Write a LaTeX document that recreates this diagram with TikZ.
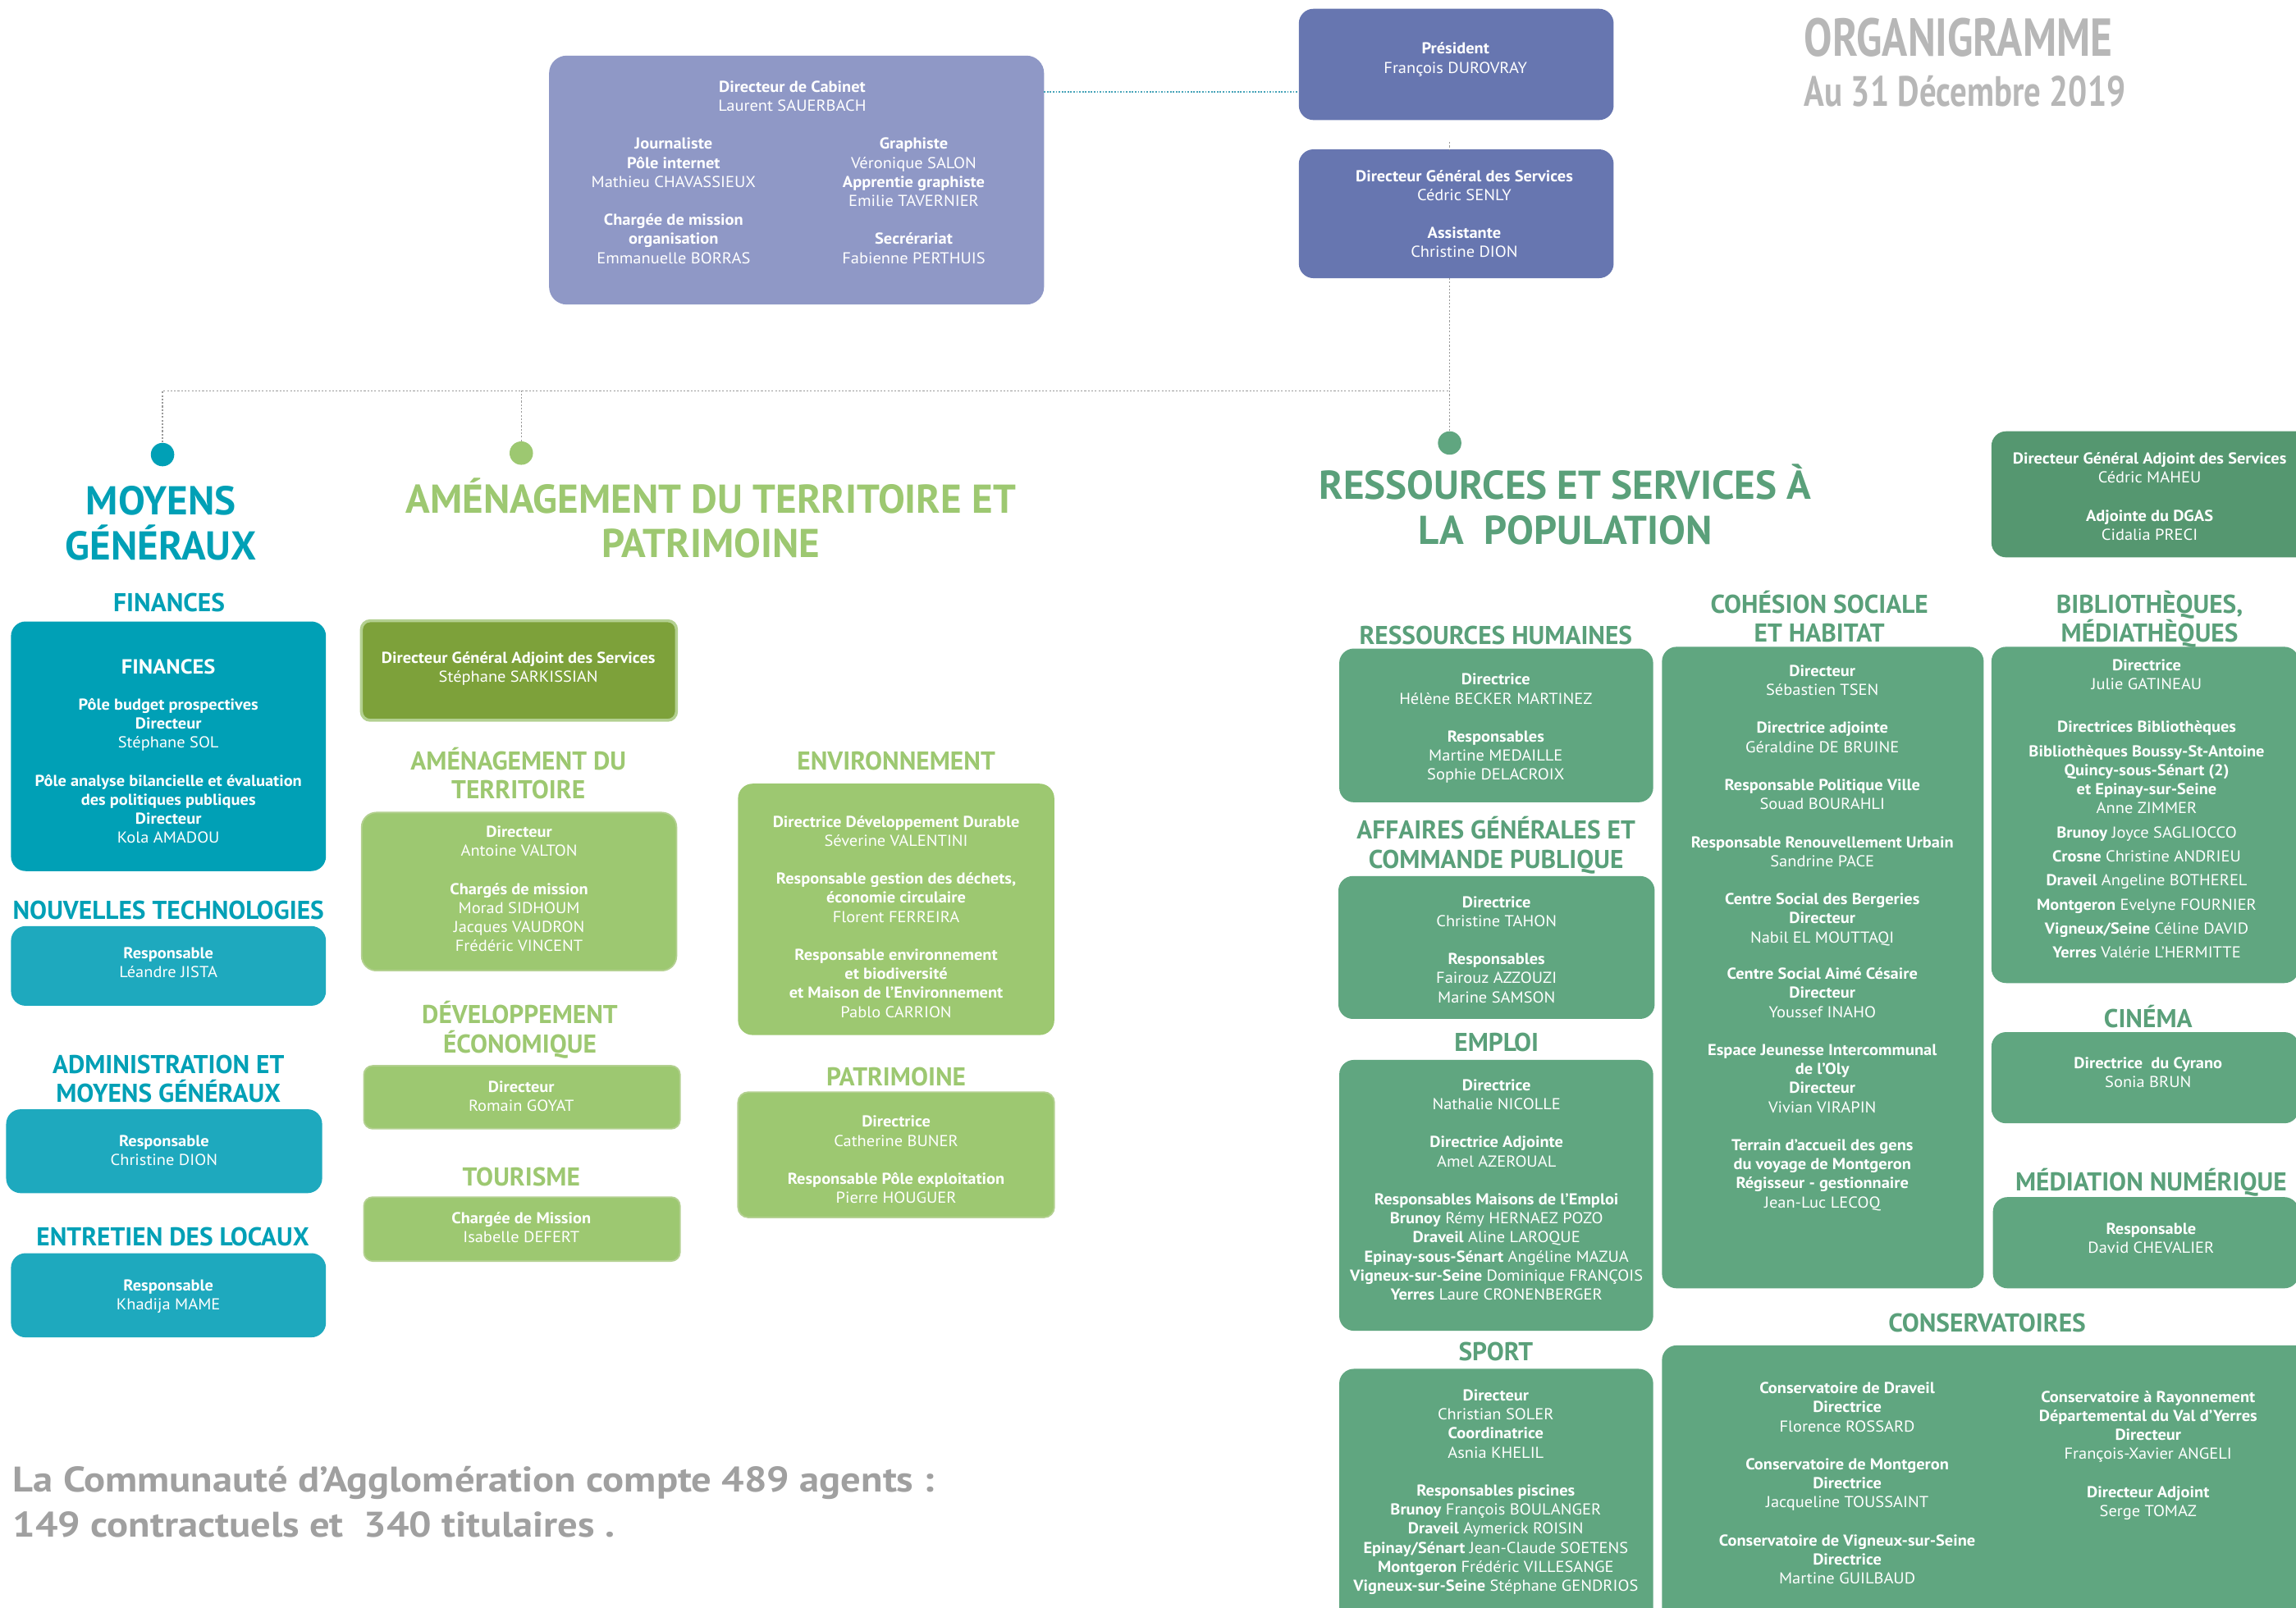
\documentclass[tikz,border=0pt]{standalone}
\usepackage{fontspec}
\setmainfont{PT Sans}
\newfontfamily\condfont{PT Sans}[FakeStretch=0.79]
\newfontfamily\boxfont{PT Sans}[FakeStretch=1.06]
\newfontfamily\widefont{PT Sans}[FakeStretch=1.12]
\usetikzlibrary{calc}
\definecolor{tealA}{HTML}{00A0B6}
\definecolor{tealB}{HTML}{1EA9BE}
\definecolor{lgreen}{HTML}{9DC871}
\definecolor{lgborder}{HTML}{B3D090}
\definecolor{olive}{HTML}{7DA13A}
\definecolor{dgreen}{HTML}{60A680}
\definecolor{dgreenB}{HTML}{559770}
\definecolor{dghead}{HTML}{5AA07A}
\definecolor{lavender}{HTML}{8F98C6}
\definecolor{presblue}{HTML}{6776B0}
\definecolor{titlegray}{HTML}{B7B7B7}
\definecolor{botgray}{HTML}{A0A0A0}
\definecolor{conngray}{HTML}{9A9A9A}
\definecolor{cabline}{HTML}{45A3B8}
\newcommand\mkbox[7]{\node[bx, fill=#2, minimum width=#5pt-#3pt, minimum height=#6pt-#4pt, #7] (#1) at (#3,#4) {};}
\newcommand\bx[1]{\textbf{#1}}
\newcommand\strA{\rule{0pt}{9.9pt}}
\newcommand\strB{\rule{0pt}{16.5pt}}
\newcommand\strC{\rule{0pt}{25.5pt}}
\newcommand\strT{\rule{0pt}{34.7pt}}
\newcommand\strS{\rule{0pt}{23.1pt}}
\begin{document}
\begin{tikzpicture}[x=1pt,y=-1pt,
  bx/.style={rectangle, rounded corners=10pt, draw=none, inner sep=0pt, outer sep=0pt, anchor=north west},
  tx/.style={anchor=north, inner sep=0pt, align=center, text=white, font=\boxfont\fontsize{10.8}{13}\selectfont},
  hd/.style={anchor=north, inner sep=0pt, align=center, font=\bfseries\fontsize{17.6}{19.8}\selectfont},
  bighd/.style={anchor=north, inner sep=0pt, align=center, font=\bfseries\fontsize{27.5}{30.5}\selectfont},
  dotnode/.style={circle, inner sep=0pt, minimum size=16pt, fill=#1},
  conn/.style={draw=conngray, line width=0.7pt, dash pattern=on 1.2pt off 1.2pt},
  cabconn/.style={draw=cabline, line width=1.2pt, dash pattern=on 1pt off 1pt}
]
\useasboundingbox (0,0) rectangle (1568,1098);
\clip (0,0) rectangle (1568,1098);
\fill[white] (0,0) rectangle (1568,1098);

% ---------- title ----------
\node[anchor=north west, inner sep=0pt, align=left, text=titlegray, font=\condfont\bfseries\fontsize{36.5}{34.2}\selectfont] (title) at (1232,3.6) {\strT ORGANIGRAMME\\{\fontsize{29}{34.2}\selectfont Au 31 Décembre 2019}};

% ---------- top boxes ----------
\mkbox{cab}{lavender}{375}{38}{713}{208}{rounded corners=12pt}
\mkbox{pres}{presblue}{887}{6}{1102}{82}{}
\mkbox{dgs}{presblue}{887}{102}{1102}{190}{}
\node[tx] (cabt) at (541,52.8) {\strA\bx{Directeur de Cabinet}\\Laurent SAUERBACH};
\node[tx] (cabl) at (460,91.8) {\strA\bx{Journaliste}\\\bx{Pôle internet}\\Mathieu CHAVASSIEUX\\[13pt]\bx{Chargée de mission}\\\bx{organisation}\\Emmanuelle BORRAS};
\node[tx] (cabr) at (624,91.8) {\strA\bx{Graphiste}\\Véronique SALON\\\bx{Apprentie graphiste}\\Emilie TAVERNIER\\[13pt]\bx{Secrérariat}\\Fabienne PERTHUIS};
\node[tx] (prest) at (994,26.8) {\strA\bx{Président}\\François DUROVRAY};
\node[tx] (dgst) at (1000,113.8) {\strA\bx{Directeur Général des Services}\\Cédric SENLY\\[13pt]\bx{Assistante}\\Christine DION};

% ---------- connectors ----------
\node[dotnode=tealA] (d1) at (111,310.5) {};
\node[dotnode=lgreen] (d2) at (356,309.5) {};
\node[dotnode=dgreen] (d3) at (990,302.6) {};
\coordinate (jn) at (990,267);
\coordinate (vtop) at (990,97);
\coordinate (cy) at (800,63);
\draw[cabconn] (cab.east |- cy) -- (pres.west |- cy);
\draw[conn] (vtop) -- (vtop |- dgs.north);
\draw[conn] (jn |- dgs.south) -- (d3.north);
\draw[conn] (d1.north) |- (jn);
\draw[conn] (d2.north) -- (d2.north |- jn);

% ---------- big headings ----------
\node[bighd, text=tealA] (hmg) at (110,326) {\strC MOYENS\\GÉNÉRAUX};
\node[bighd, text=lgreen] (hat) at (485.5,324.8) {\strC AMÉNAGEMENT DU TERRITOIRE ET\\PATRIMOINE};
\node[bighd, text=dghead] (hrs) at (1069,315.5) {\strC RESSOURCES ET SERVICES À\\LA~ POPULATION};

% ---------- moyens generaux ----------
\node[hd, text=tealA] (hfin) at (115.5,401) {\strB FINANCES};
\mkbox{fin}{tealA}{7.5}{424.5}{222.6}{595}{}
\node[tx] (fint) at (115,450.1) {\strA{\fontsize{14}{16}\selectfont\bfseries FINANCES}\\[11.7pt]\bx{Pôle budget prospectives}\\\bx{Directeur}\\Stéphane SOL\\[13pt]\bx{Pôle analyse bilancielle et évaluation}\\\bx{des politiques publiques}\\\bx{Directeur}\\Kola AMADOU};
\node[hd, text=tealA] (hnt) at (115,611.1) {\strB NOUVELLES TECHNOLOGIES};
\mkbox{nt}{tealB}{7.5}{632.6}{222.6}{687}{}
\node[tx] (ntt) at (115,644.8) {\strA\bx{Responsable}\\Léandre JISTA};
\node[hd, text=tealA] (hadm) at (115,716.5) {\strB ADMINISTRATION ET\\MOYENS GÉNÉRAUX};
\mkbox{adm}{tealB}{4.2}{757.7}{220}{815}{}
\node[tx] (admt) at (112,772.8) {\strA\bx{Responsable}\\Christine DION};
\node[hd, text=tealA] (hent) at (118,834.5) {\strB ENTRETIEN DES LOCAUX};
\mkbox{ent}{tealB}{7.5}{856}{222.6}{913.5}{}
\node[tx] (entt) at (115,871.8) {\strA\bx{Responsable}\\Khadija MAME};

% ---------- amenagement ----------
\mkbox{sark}{olive}{246.8}{424}{462}{492}{draw=lgborder, line width=2pt, rounded corners=6pt}
\node[tx] (sarkt) at (354,442.8) {\strA\bx{Directeur Général Adjoint des Services}\\Stéphane SARKISSIAN};
\node[hd, text=lgreen] (hamt) at (354,509.2) {\strB AMÉNAGEMENT DU\\TERRITOIRE};
\mkbox{amen}{lgreen}{247}{555}{462}{663}{draw=lgborder, line width=1pt}
\node[tx] (ament) at (354.5,561.8) {\strA\bx{Directeur}\\Antoine VALTON\\[13pt]\bx{Chargés de mission}\\Morad SIDHOUM\\Jacques VAUDRON\\Frédéric VINCENT};
\node[hd, text=lgreen] (hdev) at (355,682.5) {\strB DÉVELOPPEMENT\\ÉCONOMIQUE};
\mkbox{dev}{lgreen}{248.5}{728}{464.4}{771}{draw=lgborder, line width=1pt, rounded corners=6pt}
\node[tx] (devt) at (356,735.8) {\strA\bx{Directeur}\\Romain GOYAT};
\node[hd, text=lgreen] (htou) at (356,793.5) {\strB TOURISME};
\mkbox{tour}{lgreen}{248.5}{817.7}{464.4}{861.4}{draw=lgborder, line width=1pt, rounded corners=6pt}
\node[tx] (tourt) at (356,825.8) {\strA\bx{Chargée de Mission}\\Isabelle DEFERT};
\node[hd, text=lgreen] (henv) at (612,509.2) {\strB ENVIRONNEMENT};
\mkbox{env}{lgreen}{504}{535.3}{720}{707}{}
\node[tx] (envt) at (612,554.8) {\strA\bx{Directrice Développement Durable}\\Séverine VALENTINI\\[13pt]\bx{Responsable gestion des déchets,}\\\bx{économie circulaire}\\Florent FERREIRA\\[13pt]\bx{Responsable environnement}\\\bx{et biodiversité}\\\bx{et Maison de l’Environnement}\\Pablo CARRION};
\node[hd, text=lgreen] (hpat) at (612,725.1) {\strB PATRIMOINE};
\mkbox{pat}{lgreen}{504}{746}{720}{831.6}{draw=lgborder, line width=1pt, rounded corners=7pt}
\node[tx] (patt) at (612,759.8) {\strA\bx{Directrice}\\Catherine BUNER\\[13pt]\bx{Responsable Pôle exploitation}\\Pierre HOUGUER};

% ---------- ressources et services ----------
\mkbox{maheu}{dgreenB}{1360}{294.6}{1580}{380.7}{}
\node[tx] (maheut) at (1468,306.8) {\strA\bx{Directeur Général Adjoint des Services}\\Cédric MAHEU\\[13pt]\bx{Adjointe du DGAS}\\Cidalia PRECI};

\node[hd, text=dghead] (hrh) at (1021.5,423.5) {\strB RESSOURCES HUMAINES};
\mkbox{rh}{dgreen}{914.6}{443}{1129}{548}{}
\node[tx] (rht) at (1021.5,457.8) {\strA\bx{Directrice}\\Hélène BECKER MARTINEZ\\[13pt]\bx{Responsables}\\Martine MEDAILLE\\Sophie DELACROIX};

\node[hd, text=dghead] (hag) at (1021.7,556.5) {\strB AFFAIRES GÉNÉRALES ET\\COMMANDE PUBLIQUE};
\mkbox{ag}{dgreen}{914}{598.4}{1130}{696}{}
\node[tx] (agt) at (1022,609.8) {\strA\bx{Directrice}\\Christine TAHON\\[13pt]\bx{Responsables}\\Fairouz AZZOUZI\\Marine SAMSON};

\node[hd, text=dghead] (hemp) at (1022,701.5) {\strB EMPLOI};
\mkbox{emp}{dgreen}{914.6}{724}{1129}{909}{}
\node[tx] (empt) at (1022,734.8) {\strA\bx{Directrice}\\Nathalie NICOLLE\\[13pt]\bx{Directrice Adjointe}\\Amel AZEROUAL\\[13pt]\bx{Responsables Maisons de l’Emploi}\\\bx{Brunoy} Rémy HERNAEZ POZO\\\bx{Draveil} Aline LAROQUE\\\bx{Epinay-sous-Sénart} Angéline MAZUA\\\bx{Vigneux-sur-Seine} Dominique FRANÇOIS\\\bx{Yerres} Laure CRONENBERGER};

\node[hd, text=dghead] (hspo) at (1021.5,912.5) {\strB SPORT};
\mkbox{spo}{dgreen}{914.6}{935}{1129}{1130}{}
\node[tx] (spot) at (1021.5,946.8) {\strA\bx{Directeur}\\Christian SOLER\\\bx{Coordinatrice}\\Asnia KHELIL\\[13pt]\bx{Responsables piscines}\\\bx{Brunoy} François BOULANGER\\\bx{Draveil} Aymerick ROISIN\\\bx{Epinay/Sénart} Jean-Claude SOETENS\\\bx{Montgeron} Frédéric VILLESANGE\\\bx{Vigneux-sur-Seine} Stéphane GENDRIOS};

\node[hd, text=dghead] (hcoh) at (1242.5,402) {\strB COHÉSION SOCIALE\\ET HABITAT};
\mkbox{coh}{dgreen}{1135}{441.8}{1354.7}{880}{}
\node[tx] (coht) at (1244.5,451.8) {\strA\bx{Directeur}\\Sébastien TSEN\\[13pt]\bx{Directrice adjointe}\\Géraldine DE BRUINE\\[13pt]\bx{Responsable Politique Ville}\\Souad BOURAHLI\\[13pt]\bx{Responsable Renouvellement Urbain}\\Sandrine PACE\\[13pt]\bx{Centre Social des Bergeries}\\\bx{Directeur}\\Nabil EL MOUTTAQI\\[12pt]\bx{Centre Social Aimé Césaire}\\\bx{Directeur}\\Youssef INAHO\\[13pt]\bx{Espace Jeunesse Intercommunal}\\\bx{de l’Oly}\\\bx{Directeur}\\Vivian VIRAPIN\\[13pt]\bx{Terrain d’accueil des gens}\\\bx{du voyage de Montgeron}\\\bx{Régisseur - gestionnaire}\\Jean-Luc LECOQ};

\node[hd, text=dghead] (hbib) at (1468,402) {\strB BIBLIOTHÈQUES,\\MÉDIATHÈQUES};
\mkbox{bib}{dgreen}{1360}{441.8}{1570}{671.5}{}
\node[tx] (bibt) at (1466,447.8) {\strA\bx{Directrice}\\Julie GATINEAU\\[16pt]\bx{Directrices Bibliothèques}\\[4pt]\bx{Bibliothèques Boussy-St-Antoine}\\\bx{Quincy-sous-Sénart (2)}\\\bx{et Epinay-sur-Seine}\\Anne ZIMMER\\[3.5pt]\bx{Brunoy} Joyce SAGLIOCCO\\[3.4pt]\bx{Crosne} Christine ANDRIEU\\[3.4pt]\bx{Draveil} Angeline BOTHEREL\\[3.4pt]\bx{Montgeron} Evelyne FOURNIER\\[3.4pt]\bx{Vigneux/Seine} Céline DAVID\\[3.4pt]\bx{Yerres} Valérie L’HERMITTE};

\node[hd, text=dghead] (hcin) at (1467,685.2) {\strB CINÉMA};
\mkbox{cin}{dgreen}{1360}{705}{1570}{767.3}{}
\node[tx] (cint) at (1467,719.8) {\strA\bx{Directrice~ du Cyrano}\\Sonia BRUN};

\node[hd, text=dghead] (hmed) at (1469,796.5) {\strB MÉDIATION NUMÉRIQUE};
\mkbox{med}{dgreen}{1361}{817.7}{1570}{880}{}
\node[tx] (medt) at (1469,832.8) {\strA\bx{Responsable}\\David CHEVALIER};

\node[hd, text=dghead] (hcon) at (1357,893.2) {\strB CONSERVATOIRES};
\mkbox{con}{dgreen}{1135}{919}{1580}{1130}{}
\node[tx] (conl) at (1261.5,941.8) {\strA\bx{Conservatoire de Draveil}\\\bx{Directrice}\\Florence ROSSARD\\[13pt]\bx{Conservatoire de Montgeron}\\\bx{Directrice}\\Jacqueline TOUSSAINT\\[13pt]\bx{Conservatoire de Vigneux-sur-Seine}\\\bx{Directrice}\\Martine GUILBAUD};
\node[tx] (conr) at (1467,947.8) {\strA\bx{Conservatoire à Rayonnement}\\\bx{Départemental du Val d’Yerres}\\\bx{Directeur}\\François-Xavier ANGELI\\[13pt]\bx{Directeur Adjoint}\\Serge TOMAZ};

% ---------- bottom text ----------
\node[anchor=north west, inner sep=0pt, align=left, text=botgray, font=\widefont\bfseries\fontsize{24.3}{30.5}\selectfont] (stats) at (8.6,995.9) {\strS La Communauté d’Agglomération compte 489 agents :\\149 contractuels et~ 340 titulaires .};
\end{tikzpicture}
\end{document}
